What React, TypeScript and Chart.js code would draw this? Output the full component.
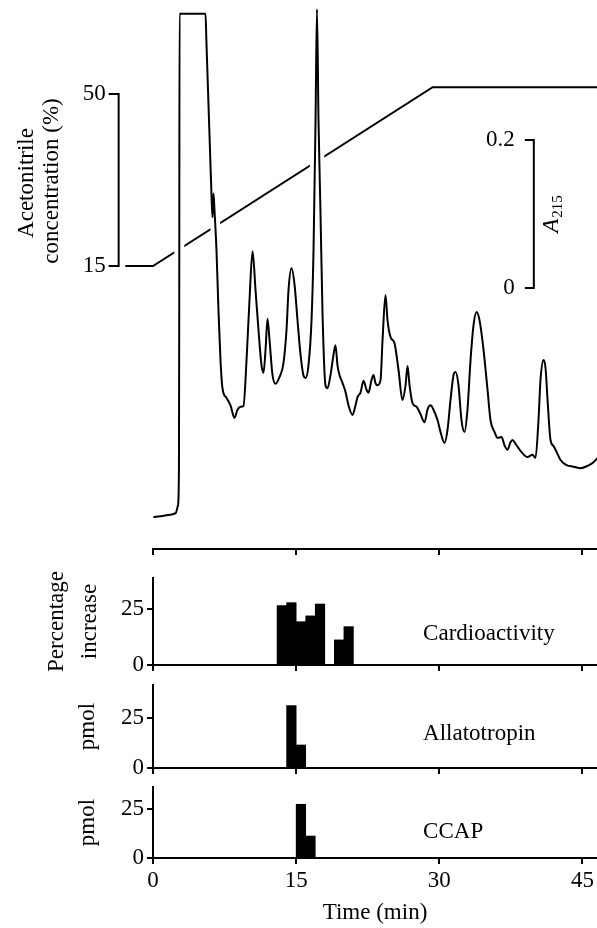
import React, { useEffect, useRef } from "react";
import { Chart, registerables } from "chart.js";

Chart.register(...registerables);

// ---------------- data ----------------
const TRACE_TIME = [
  0.05, 0.79, 1.83, 2.36, 2.62, 2.72, 2.75, 2.78, 5.5, 5.6, 6.0, 6.13,
  6.23, 6.34, 6.44, 6.65, 6.86, 7.07, 7.28, 7.7, 8.12, 8.54,
  8.85, 9.17, 9.48, 9.8, 10.11, 10.43, 10.74, 11.05, 11.37, 11.58,
  11.79, 12.0, 12.21, 12.52, 12.84, 13.25, 13.67, 13.99, 14.2, 14.51,
  14.83, 15.14, 15.46, 15.77, 15.98, 16.29, 16.61, 16.82, 17.03, 17.18,
  17.34, 17.55, 17.76, 18.07, 18.28, 18.6, 18.91, 19.12, 19.33, 19.54,
  19.86, 20.17, 20.48, 20.9, 21.22, 21.43, 21.74, 22.06, 22.37, 22.58,
  22.89, 23.1, 23.31, 23.52, 23.84, 24.05, 24.36, 24.57, 24.89, 25.3,
  25.72, 26.14, 26.46, 26.67, 26.88, 27.19, 27.61, 28.03, 28.45, 28.76,
  29.08, 29.39, 29.81, 30.12, 30.54, 30.86, 31.17, 31.49, 31.7, 32.01,
  32.32, 32.64, 32.95, 33.27, 33.58, 33.9, 34.21, 34.63, 35.05, 35.36,
  35.78, 36.1, 36.52, 36.83, 37.14, 37.46, 37.67, 37.98, 38.3, 38.72,
  39.24, 39.76, 40.08, 40.39, 40.6, 40.92, 41.13, 41.34, 41.65, 41.96,
  42.28, 42.7, 43.33, 44.06, 44.79, 45.53, 46.16, 46.58,
];
const TRACE_A215 = [
  0.0, 0.001, 0.003, 0.005, 0.016, 0.068, 0.293, 0.68, 0.68, 0.641, 0.485, 0.435,
  0.405, 0.437, 0.415, 0.361, 0.28, 0.212, 0.174, 0.161, 0.151, 0.134,
  0.145, 0.149, 0.15, 0.212, 0.293, 0.359, 0.307, 0.253, 0.205, 0.195,
  0.226, 0.268, 0.239, 0.192, 0.18, 0.189, 0.208, 0.253, 0.307, 0.336,
  0.314, 0.266, 0.219, 0.191, 0.188, 0.205, 0.266, 0.361, 0.536, 0.686,
  0.536, 0.411, 0.276, 0.178, 0.174, 0.192, 0.219, 0.232, 0.205, 0.192,
  0.181, 0.169, 0.151, 0.138, 0.151, 0.162, 0.168, 0.184, 0.172, 0.168,
  0.185, 0.192, 0.181, 0.178, 0.185, 0.239, 0.3, 0.266, 0.243, 0.235,
  0.199, 0.158, 0.178, 0.204, 0.178, 0.154, 0.149, 0.139, 0.128, 0.145,
  0.151, 0.145, 0.131, 0.115, 0.1, 0.118, 0.158, 0.192, 0.196, 0.178,
  0.131, 0.115, 0.145, 0.212, 0.259, 0.277, 0.266, 0.226, 0.172, 0.131,
  0.115, 0.107, 0.108, 0.097, 0.091, 0.101, 0.104, 0.099, 0.093, 0.086,
  0.081, 0.084, 0.08, 0.131, 0.185, 0.212, 0.201, 0.158, 0.104, 0.096,
  0.088, 0.077, 0.07, 0.068, 0.066, 0.069, 0.074, 0.08,
];

const GRADIENT_TIME = [-2.9, 0, 29.3, 46.6];
const GRADIENT_ACETONITRILE = [15, 15, 51.4, 51.4];

const ACETONITRILE_TICKS = [15, 50];
const A215_TICKS = [0, 0.2];
const A215_TICK_LABELS = ["0", "0.2"];
const TIME_TICKS = [0, 15, 30, 45];
const PANEL_TICKS = [0, 25];

const CARDIO_TIME = [13.5, 14.5, 15.5, 16.5, 17.5, 19.5, 20.5];
const CARDIO_INCREASE = [26.5, 27.8, 19.3, 21.9, 27.2, 11.2, 17.1];
const ALLATOTROPIN_TIME = [14.5, 15.5];
const ALLATOTROPIN_PMOL = [31.2, 11.5];
const CCAP_TIME = [15.5, 16.5];
const CCAP_PMOL = [27.4, 11.2];

// ---------------- layout / style ----------------
const FONT_FAMILY = "'Liberation Serif', 'Times New Roman', Times, serif";
const FONT_SIZE = 23;
const WIDTH = 597;
const AXIS_LEFT = 153;
const X_MAX = 46.52;
const LINE_W = 2;

const TOP_HEIGHT = 560;
const TOP_AXIS_HEIGHT = 11;
const ACN_AXIS_TIME = -3.6;
const A215_BAR_TIME = 39.9;

const PANEL_NAME_TIME = 28.3;

const PANELS = [
  {
    id: "cardio", top: 560, height: 120, padTop: 18, axisHeight: 15, yMax: 38.8,
    time: CARDIO_TIME, values: CARDIO_INCREASE, name: "Cardioactivity", nameValue: 11.2,
    yTitle: ["Percentage", "increase"], yTitleX: [63, 96], showTime: false,
  },
  {
    id: "allato", top: 680, height: 100, padTop: 5, axisHeight: 12, yMax: 41.5,
    time: ALLATOTROPIN_TIME, values: ALLATOTROPIN_PMOL, name: "Allatotropin", nameValue: 14,
    yTitle: ["pmol"], yTitleX: [94], showTime: false,
  },
  {
    id: "ccap", top: 780, height: 148, padTop: 7, axisHeight: 70, yMax: 36.2,
    time: CCAP_TIME, values: CCAP_PMOL, name: "CCAP", nameValue: 10.2,
    yTitle: ["pmol"], yTitleX: [94], showTime: true,
  },
];

const font = () => ({ family: FONT_FAMILY, size: FONT_SIZE });
const cssFont = (extra = "") => `${extra}${FONT_SIZE}px ${FONT_FAMILY}`;

function zeroPad(s: any) {
  s.paddingLeft = 0;
  s.paddingRight = 0;
  s.paddingTop = 0;
  s.paddingBottom = 0;
}

function rotText(ctx: CanvasRenderingContext2D, text: string, baseX: number, centerY: number) {
  ctx.save();
  ctx.translate(baseX, centerY);
  ctx.rotate(-Math.PI / 2);
  ctx.font = cssFont();
  ctx.textAlign = "center";
  ctx.textBaseline = "alphabetic";
  ctx.fillStyle = "#000";
  ctx.fillText(text, 0, 0);
  ctx.restore();
}

function timeAxis(height: number, showLabels: boolean) {
  return {
    type: "linear",
    min: 0,
    max: X_MAX,
    offset: false,
    afterBuildTicks: (s: any) => {
      s.ticks = TIME_TICKS.map((v) => ({ value: v }));
    },
    afterFit: (s: any) => {
      s.height = height;
      zeroPad(s);
    },
    grid: {
      offset: false,
      drawOnChartArea: false,
      drawTicks: true,
      tickLength: 6,
      color: "#000",
      lineWidth: LINE_W,
    },
    border: { display: true, color: "#000", width: LINE_W },
    ticks: {
      display: showLabels,
      autoSkip: false,
      maxRotation: 0,
      padding: 3,
      color: "#000",
      font: font(),
    },
    title: showLabels
      ? { display: true, text: "Time (min)", color: "#000", font: font(), padding: { top: 0, bottom: 1 } }
      : { display: false },
  };
}

// ---------------- top chart ----------------
const topDecor = {
  id: "topDecor",
  afterDraw(chart: any) {
    const { ctx, scales } = chart;
    const xs = scales.x;
    const ya = scales.yAcn;
    const yb = scales.yBar;
    ctx.save();
    ctx.strokeStyle = "#000";
    ctx.fillStyle = "#000";
    ctx.lineWidth = LINE_W;
    ctx.lineJoin = "miter";
    ctx.lineCap = "butt";

    // acetonitrile scale
    const ax = xs.getPixelForValue(ACN_AXIS_TIME);
    const a0 = ya.getPixelForValue(ACETONITRILE_TICKS[0]);
    const a1 = ya.getPixelForValue(ACETONITRILE_TICKS[1]);
    ctx.beginPath();
    ctx.moveTo(ax - 10, a1);
    ctx.lineTo(ax, a1);
    ctx.lineTo(ax, a0);
    ctx.lineTo(ax - 10, a0);
    ctx.stroke();
    ctx.font = cssFont();
    ctx.textAlign = "right";
    ctx.textBaseline = "middle";
    ACETONITRILE_TICKS.forEach((v) => ctx.fillText(String(v), ax - 13, ya.getPixelForValue(v)));

    // A215 scale bar
    const bx = xs.getPixelForValue(A215_BAR_TIME);
    const b0 = yb.getPixelForValue(A215_TICKS[0]);
    const b1 = yb.getPixelForValue(A215_TICKS[1]);
    ctx.beginPath();
    ctx.moveTo(bx - 9, b1);
    ctx.lineTo(bx, b1);
    ctx.lineTo(bx, b0);
    ctx.lineTo(bx - 9, b0);
    ctx.stroke();
    A215_TICKS.forEach((v, i) => ctx.fillText(A215_TICK_LABELS[i], bx - 19, yb.getPixelForValue(v)));

    // axis titles
    rotText(ctx, "Acetonitrile", 33, 183);
    rotText(ctx, "concentration (%)", 58, 181);

    // A215 label (italic A with subscript)
    const mainFont = cssFont("italic ");
    const subFont = `15px ${FONT_FAMILY}`;
    ctx.font = mainFont;
    const wA = ctx.measureText("A").width;
    ctx.font = subFont;
    const wS = ctx.measureText("215").width;
    const total = wA + 1 + wS;
    const cy = (b0 + b1) / 2;
    ctx.save();
    ctx.translate(bx + 24, cy + total / 2);
    ctx.rotate(-Math.PI / 2);
    ctx.textAlign = "left";
    ctx.textBaseline = "alphabetic";
    ctx.font = mainFont;
    ctx.fillText("A", 0, 0);
    ctx.font = subFont;
    ctx.fillText("215", wA + 1, 4);
    ctx.restore();

    ctx.restore();
  },
};

function topConfig(): any {
  const trace = TRACE_TIME.map((t, i) => ({ x: t, y: TRACE_A215[i] }));
  const gradient = GRADIENT_TIME.map((t, i) => ({ x: t, y: GRADIENT_ACETONITRILE[i] }));
  return {
    type: "line",
    data: {
      datasets: [
        {
          data: trace,
          yAxisID: "yTrace",
          borderColor: "#000",
          borderWidth: LINE_W,
          pointRadius: 0,
          fill: false,
          cubicInterpolationMode: "monotone",
        },
        {
          data: trace,
          yAxisID: "yTrace",
          borderColor: "#fff",
          borderWidth: 10,
          pointRadius: 0,
          fill: false,
          cubicInterpolationMode: "monotone",
        },
        {
          data: gradient,
          yAxisID: "yAcn",
          borderColor: "#000",
          borderWidth: LINE_W,
          pointRadius: 0,
          fill: false,
          tension: 0,
          clip: false,
        },
      ],
    },
    options: {
      animation: false,
      responsive: false,
      events: [],
      layout: { padding: { left: AXIS_LEFT, top: 0, right: 0, bottom: 0 } },
      plugins: { legend: { display: false }, tooltip: { enabled: false } },
      scales: {
        x: timeAxis(TOP_AXIS_HEIGHT, false),
        yTrace: { type: "linear", display: false, min: -0.04324, max: 0.69865 },
        yAcn: { type: "linear", display: false, min: -42.59, max: 69.13 },
        yBar: { type: "linear", display: false, min: -0.3527, max: 0.3892 },
      },
    },
    plugins: [topDecor],
  };
}

// ---------------- bar panels ----------------
function panelConfig(p: any): any {
  const decor = {
    id: "decor_" + p.id,
    afterDraw(chart: any) {
      const { ctx, chartArea, scales } = chart;
      ctx.save();
      const cy = (chartArea.top + chartArea.bottom) / 2;
      p.yTitle.forEach((txt: string, i: number) => rotText(ctx, txt, p.yTitleX[i], cy));
      ctx.font = cssFont();
      ctx.fillStyle = "#000";
      ctx.textAlign = "left";
      ctx.textBaseline = "alphabetic";
      ctx.fillText(p.name, scales.x.getPixelForValue(PANEL_NAME_TIME), scales.y.getPixelForValue(p.nameValue));
      ctx.restore();
    },
  };
  return {
    type: "bar",
    data: {
      datasets: [
        {
          data: p.time.map((t: number, i: number) => ({ x: t, y: p.values[i] })),
          backgroundColor: "#000",
          borderWidth: 0,
          barPercentage: 1,
          categoryPercentage: 1,
        },
      ],
    },
    options: {
      animation: false,
      responsive: false,
      events: [],
      layout: { padding: { left: 0, top: p.padTop, right: 0, bottom: 0 } },
      plugins: { legend: { display: false }, tooltip: { enabled: false } },
      scales: {
        x: timeAxis(p.axisHeight, p.showTime),
        y: {
          type: "linear",
          min: 0,
          max: p.yMax,
          afterBuildTicks: (s: any) => {
            s.ticks = PANEL_TICKS.map((v) => ({ value: v }));
          },
          afterFit: (s: any) => {
            s.width = AXIS_LEFT;
            zeroPad(s);
          },
          grid: { drawOnChartArea: false, drawTicks: true, tickLength: 6, color: "#000", lineWidth: LINE_W },
          border: { display: true, color: "#000", width: LINE_W },
          ticks: { color: "#000", font: font(), padding: 3 },
        },
      },
    },
    plugins: [decor],
  };
}

function ChartCanvas({ makeConfig, top, height }: { makeConfig: () => any; top: number; height: number }) {
  const ref = useRef<HTMLCanvasElement | null>(null);
  useEffect(() => {
    if (!ref.current) return;
    const chart = new Chart(ref.current, makeConfig());
    return () => chart.destroy();
  }, []);
  return (
    <canvas
      ref={ref}
      width={WIDTH}
      height={height}
      style={{ position: "absolute", left: 0, top, width: WIDTH, height }}
    />
  );
}

export default function App() {
  return (
    <div style={{ position: "absolute", left: 0, top: 0, width: WIDTH, height: 928, background: "#fff" }}>
      <ChartCanvas makeConfig={topConfig} top={0} height={TOP_HEIGHT} />
      {PANELS.map((p) => (
        <ChartCanvas key={p.id} makeConfig={() => panelConfig(p)} top={p.top} height={p.height} />
      ))}
    </div>
  );
}
